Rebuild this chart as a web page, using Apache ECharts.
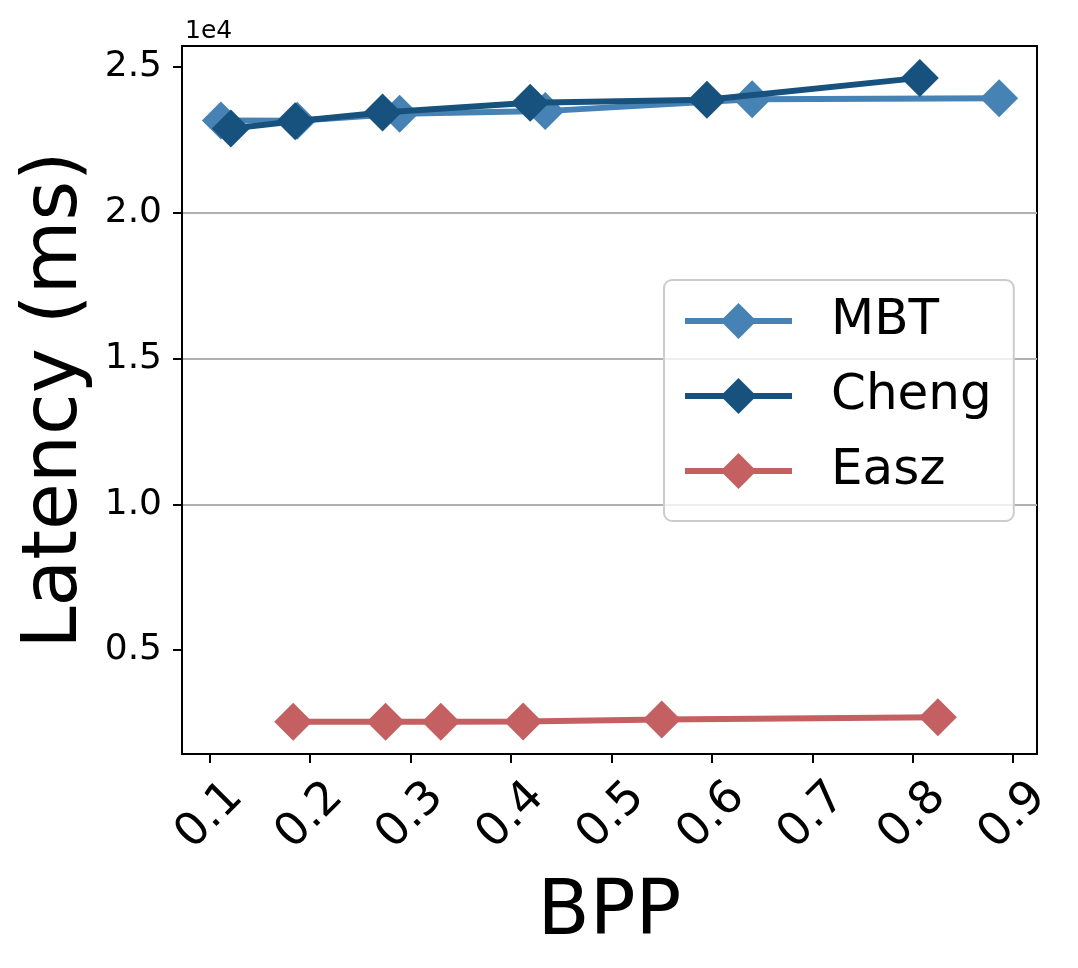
<!DOCTYPE html>
<html>
<head>
<meta charset="utf-8">
<script src="https://cdn.jsdelivr.net/npm/echarts@6/dist/echarts.min.js"></script>
<style>
    html, body { margin: 0; padding: 0; background: #fff; }
    #chart { width: 1078px; height: 968px; }
</style>
</head>
<body>
<div id="chart"></div>
<script>
// BPP on x, latency in ms on y
const mbtBpp = [0.111, 0.187, 0.289, 0.434, 0.640, 0.886];
const mbtLatency = [23170, 23160, 23400, 23490, 23900, 23930];
const chengBpp = [0.121, 0.185, 0.272, 0.419, 0.595, 0.807];
const chengLatency = [22890, 23140, 23440, 23780, 23880, 24630];
const easzBpp = [0.183, 0.275, 0.330, 0.412, 0.550, 0.825];
const easzLatency = [2540, 2540, 2545, 2550, 2620, 2700];

const xTicks = [0.1, 0.2, 0.3, 0.4, 0.5, 0.6, 0.7, 0.8, 0.9];
const yTicks = [5000, 10000, 15000, 20000, 25000];

const FONT = 'DejaVu Sans';

function pairs(xs, ys) {
    return xs.map((x, i) => [x, ys[i]]);
}

const chart = echarts.init(document.getElementById('chart'), null, { renderer: 'canvas' });

function lineSeries(name, xs, ys, color, z) {
    return {
        name: name,
        type: 'line',
        data: pairs(xs, ys),
        symbol: 'diamond',
        symbolSize: 38,
        z: z,
        lineStyle: { color: color, width: 6 },
        itemStyle: { color: color },
        emphasis: { disabled: true },
        animation: false
    };
}

chart.setOption({
    backgroundColor: '#fff',
    animation: false,
    title: {
        text: '1e4',
        left: 180,
        top: 14,
        textStyle: { fontFamily: FONT, fontSize: 25, fontWeight: 'normal', color: '#000' }
    },
    grid: {
        left: 182, right: 41, top: 46, bottom: 214,
        show: true, borderColor: '#000', borderWidth: 2, backgroundColor: 'transparent'
    },
    legend: {
        orient: 'vertical',
        left: 664,
        top: 280,
        padding: [16, 22, 25, 18],
        itemWidth: 107,
        itemHeight: 45,
        itemGap: 25,
        backgroundColor: 'rgba(255,255,255,0.8)',
        borderColor: '#cccccc',
        borderWidth: 2,
        borderRadius: 8,
        lineStyle: { width: 6 },
        textStyle: { fontFamily: FONT, fontSize: 50, color: '#000', padding: [0, 0, 0, 34] },
        data: ['MBT', 'Cheng', 'Easz']
    },
    xAxis: {
        type: 'value',
        min: 0.0723,
        max: 0.9237,
        name: 'BPP',
        nameLocation: 'middle',
        nameGap: 122,
        nameTextStyle: { fontFamily: FONT, fontSize: 76, color: '#000' },
        axisLine: { show: true, lineStyle: { color: '#000', width: 2 } },
        axisTick: { show: true, length: 9, lineStyle: { color: '#000', width: 2 }, customValues: xTicks },
        axisLabel: {
            customValues: xTicks,
            rotate: 45,
            align: 'center',
            verticalAlign: 'middle',
            margin: 62,
            fontFamily: FONT,
            fontSize: 46,
            color: '#000',
            formatter: v => v.toFixed(1)
        },
        splitLine: { show: false }
    },
    yAxis: {
        type: 'value',
        min: 1436,
        max: 25724,
        name: 'Latency (ms)',
        nameLocation: 'middle',
        nameGap: 82,
        nameTextStyle: { fontFamily: FONT, fontSize: 76, color: '#000' },
        axisLine: { show: true, lineStyle: { color: '#000', width: 2 } },
        axisTick: { show: true, length: 9, lineStyle: { color: '#000', width: 2 }, customValues: yTicks },
        axisLabel: {
            customValues: yTicks,
            margin: 20,
            fontFamily: FONT,
            fontSize: 36,
            color: '#000',
            formatter: v => (v / 10000).toFixed(1)
        },
        splitLine: {
            show: true,
            showMinLine: false,
            showMaxLine: false,
            lineStyle: { color: '#b0b0b0', width: 2 }
        }
    },
    series: [
        lineSeries('MBT', mbtBpp, mbtLatency, '#4682b4', 2),
        lineSeries('Cheng', chengBpp, chengLatency, '#17527e', 3),
        lineSeries('Easz', easzBpp, easzLatency, '#c46062', 4)
    ]
});
</script>
</body>
</html>
